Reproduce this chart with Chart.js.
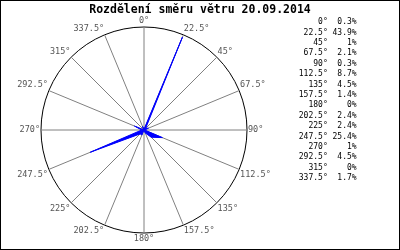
<!DOCTYPE html>
<html>
<head>
<meta charset="utf-8">
<script src="https://cdn.jsdelivr.net/npm/chart.js@4"></script>
<style>
  body { margin: 0; background: #fff; }
  #wrap { width: 400px; height: 250px; }
</style>
</head>
<body>
<div id="wrap"><canvas id="windChart"></canvas></div>
<script>
var chartTitle = 'Rozdělení směru větru 20.09.2014';
var directions = ['0°', '22.5°', '45°', '67.5°', '90°', '112.5°', '135°', '157.5°', '180°', '202.5°', '225°', '247.5°', '270°', '292.5°', '315°', '337.5°'];
var windShare = [0.3, 43.9, 1, 2.1, 0.3, 8.7, 4.5, 1.4, 0, 2.4, 2.4, 25.4, 1, 4.5, 0, 1.7];
var maxShare = 45;

// legend rows: direction and share, right aligned in a mono font
var legendRows = [];
for (var i = 0; i < directions.length; i++) {
  legendRows.push(directions[i].padStart(6) + ' ' + (windShare[i] + '%').padStart(5));
}

var monoFont = 'DejaVu Sans Mono';

// thin black frame round the whole picture
var frame = {
  id: 'frame',
  afterDraw: function(chart) {
    var c = chart.ctx;
    c.save();
    c.strokeStyle = '#000';
    c.lineWidth = 1;
    c.strokeRect(0.5, 0.5, chart.width - 1, chart.height - 1);
    c.restore();
  }
};

var ctx = document.getElementById('windChart').getContext('2d');
var chart = new Chart(ctx, {
  type: 'radar',
  data: {
    labels: directions,
    datasets: [{
      data: windShare,
      fill: true,
      backgroundColor: '#0000ff',
      borderColor: '#0000ff',
      borderWidth: 1,
      pointRadius: 0
    }]
  },
  options: {
    responsive: true,
    maintainAspectRatio: false,
    animation: false,
    layout: { padding: { bottom: 5 } },
    plugins: {
      title: {
        display: true,
        text: chartTitle,
        color: '#000',
        font: { family: monoFont, size: 11.5, weight: 'bold' },
        padding: { top: 3, bottom: -1 }
      },
      legend: {
        position: 'right',
        align: 'start',
        fullSize: false,
        rtl: true,
        textDirection: 'ltr',
        labels: {
          boxWidth: 37,
          padding: 2.4,
          color: '#000',
          font: { family: monoFont, size: 8 },
          generateLabels: function() {
            return legendRows.map(function(t) {
              return { text: t, fillStyle: 'rgba(0,0,0,0)', strokeStyle: 'rgba(0,0,0,0)', lineWidth: 0 };
            });
          }
        }
      },
      tooltip: { enabled: false }
    },
    scales: {
      r: {
        min: 0,
        max: maxShare,
        ticks: { display: false, stepSize: maxShare },
        grid: { circular: true, color: '#000' },
        angleLines: { color: '#808080' },
        pointLabels: {
          color: '#555',
          font: { family: monoFont, size: 8.5 },
          padding: 1
        }
      }
    }
  },
  plugins: [frame]
});
</script>
</body>
</html>
